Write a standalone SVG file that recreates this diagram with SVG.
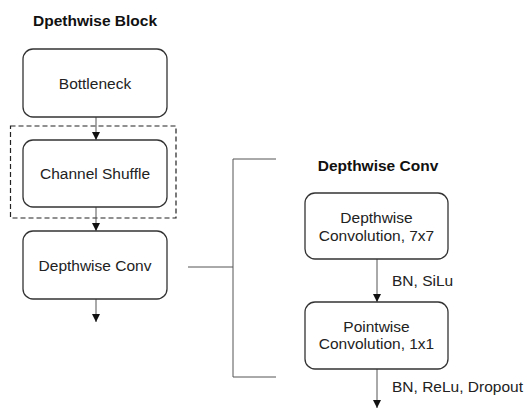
<svg xmlns="http://www.w3.org/2000/svg" width="525" height="410" viewBox="0 0 525 410">
<style>
text{font-family:"Liberation Sans",Arial,sans-serif;font-size:15.5px;fill:#222}
.t{font-weight:bold;fill:#111}
.box{fill:#fff;stroke:#333;stroke-width:1.3}
.ln{stroke:#555;stroke-width:1;fill:none}
</style>
<defs>
<marker id="ah" viewBox="0 0 10 10" refX="10" refY="5" markerWidth="8" markerHeight="8" markerUnits="userSpaceOnUse" orient="auto">
<path d="M0,0 L10,5 L0,10 z" fill="#111"/>
</marker>
</defs>
<rect width="525" height="410" fill="#fff"/>
<text class="t" x="95" y="26" text-anchor="middle">Dpethwise Block</text>
<g id="group-dashed"><rect x="10.5" y="126" width="165.5" height="92" fill="none" stroke="#222" stroke-width="1.2" stroke-dasharray="5,3"/></g>
<g id="connectors">
<line class="ln" x1="96" y1="117" x2="96" y2="140" marker-end="url(#ah)"/>
<line class="ln" x1="96" y1="207" x2="96" y2="231" marker-end="url(#ah)"/>
<line class="ln" x1="96" y1="299" x2="96" y2="322" marker-end="url(#ah)"/>
<line class="ln" x1="188" y1="267" x2="233" y2="267"/>
<path class="ln" d="M276,159 H233 V377 H276"/>
<line class="ln" x1="377" y1="259" x2="377" y2="302" marker-end="url(#ah)"/>
<line class="ln" x1="377" y1="369" x2="377" y2="408" marker-end="url(#ah)"/>
</g>
<g id="bottleneck"><rect class="box" x="23" y="49" width="144" height="68" rx="10"/><text x="95" y="88.5" text-anchor="middle">Bottleneck</text></g>
<g id="channel-shuffle"><rect class="box" x="23" y="140" width="144" height="67" rx="10"/><text x="95" y="179" text-anchor="middle">Channel Shuffle</text></g>
<g id="depthwise-conv"><rect class="box" x="23" y="231" width="144" height="68" rx="10"/><text x="95" y="270.5" text-anchor="middle">Depthwise Conv</text></g>
<text class="t" x="378" y="171" text-anchor="middle">Depthwise Conv</text>
<g id="dw-conv"><rect class="box" x="305" y="193" width="143" height="66" rx="10"/><text x="376.5" y="223" text-anchor="middle">Depthwise</text><text x="376.5" y="241" text-anchor="middle">Convolution, 7x7</text></g>
<text x="392" y="286">BN, SiLu</text>
<g id="pw-conv"><rect class="box" x="305" y="302" width="143" height="67" rx="10"/><text x="376.5" y="332" text-anchor="middle">Pointwise</text><text x="376.5" y="349" text-anchor="middle">Convolution, 1x1</text></g>
<text x="392" y="392">BN, ReLu, Dropout</text>
</svg>
